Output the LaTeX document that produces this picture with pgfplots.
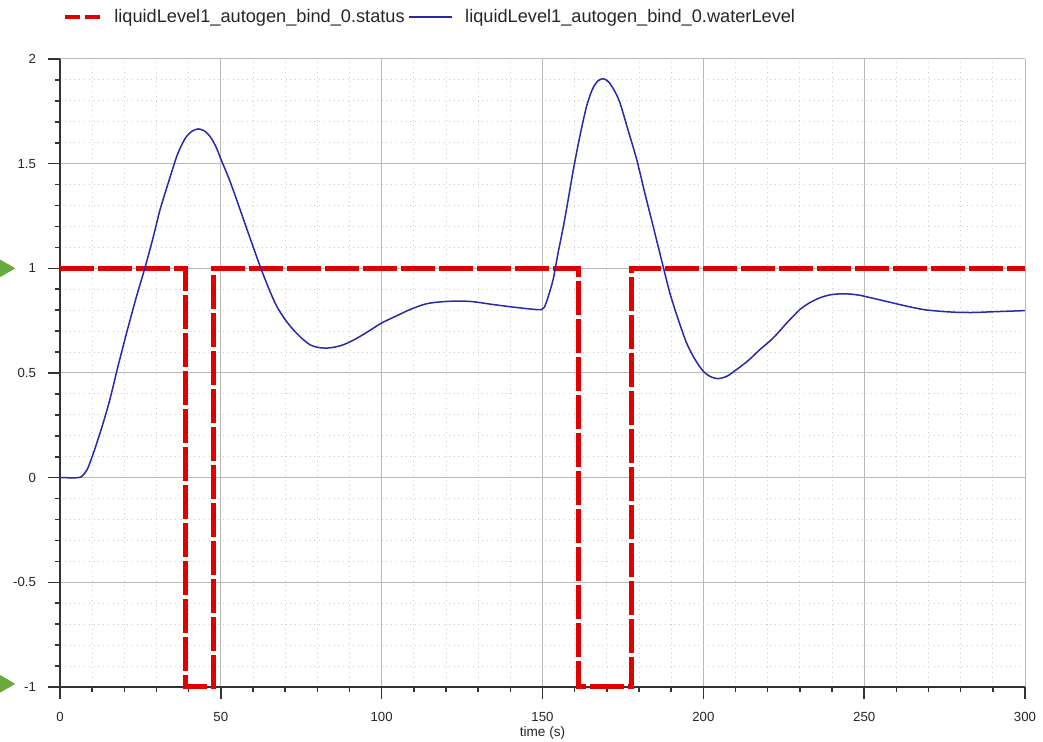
\documentclass[border=0pt]{standalone}
\usepackage{fontspec}
\setmainfont{Liberation Sans}
\usepackage{pgfplots}
\pgfplotsset{compat=1.18}

\definecolor{statred}{RGB}{225,0,0}
\definecolor{lvlblue}{RGB}{40,40,170}
\definecolor{markgreen}{RGB}{106,170,60}

\begin{document}
\begin{tikzpicture}
\begin{axis}[
  scale only axis, width=482.5pt, height=314pt,
  xmin=0, xmax=300, ymin=-1, ymax=2,
  axis lines=left, axis line style={-, draw=black!80, line width=1pt},
  xtick={0,50,100,150,200,250,300}, ytick={-1,-0.5,0,0.5,1,1.5,2},
  minor x tick num=4, minor y tick num=4,
  tick align=outside, major tick length=6pt, minor tick length=2.5pt,
  tick style={draw=black!80, line width=0.8pt},
  grid=both,
  major grid style={gray!55, line width=0.5pt},
  minor grid style={gray!40, dotted, line width=0.5pt},
  ticklabel style={font=\fontsize{6.6}{8}\selectfont, text=black!85},
  /pgf/number format/assume math mode=true,
  yticklabel style={xshift=-2.5pt}, xticklabel style={yshift=-3pt},
  xlabel={time (s)},
  xlabel style={font=\fontsize{6.8}{8}\selectfont, text=black!85, at={(axis description cs:0.5,0)}, anchor=center, yshift=-23pt},
  legend style={draw=none, fill=none, inner sep=0pt, at={(axis description cs:0.003,1.067)}, anchor=west,
    font=\fontsize{9.1}{11}\selectfont, text=black!85},
  legend columns=-1,
  legend cell align=left,
  /tikz/every odd column/.append style={column sep=4pt},
  clip=false,
]
\coordinate (bl) at (rel axis cs:0,0);
\coordinate (tr) at (rel axis cs:1,1);

\addplot[statred, line width=2.5pt, dash pattern=on 17pt off 2pt,
  legend image code/.code={\draw[statred, line width=2pt, dash pattern=on 7.5pt off 2.5pt] (0pt,0pt) -- (17.5pt,0pt);}]
  coordinates {(0,1) (38.9,1) (38.9,-1) (47.7,-1) (47.7,1) (161.1,1) (161.1,-1) (177.7,-1) (177.7,1) (300,1)};
\addlegendentry{liquidLevel1\_autogen\_bind\_0.status}

\addplot[lvlblue, line width=0.75pt, smooth, tension=0.45,
  legend image code/.code={\draw[lvlblue, line width=0.75pt] (0pt,0pt) -- (21.5pt,0pt);}]
  coordinates {(0,0) (5.7,0) (7,0.01) (8.5,0.04) (10.4,0.118) (13,0.24) (15.5,0.373) (18,0.53)
  (20.7,0.691) (23.5,0.85) (26.4,1.002) (29,1.15) (31.1,1.28) (33.7,1.41) (36.3,1.535) (38,1.595)
  (39.4,1.631) (41,1.655) (43,1.666) (44.8,1.657) (46.6,1.631) (48.5,1.58) (50.3,1.511) (52.5,1.43)
  (54.9,1.328) (58.5,1.17) (62.2,1.01) (65,0.9) (67.4,0.818) (70,0.755) (72.5,0.707) (75,0.668)
  (77.7,0.635) (80.3,0.622) (82.9,0.619) (85.5,0.624) (88.1,0.635) (90.7,0.653) (93.3,0.675)
  (96.5,0.705) (100,0.739) (104.5,0.772) (108.8,0.803) (114,0.831) (120.2,0.842) (127.4,0.842)
  (134.7,0.827) (143,0.811) (149.7,0.803) (151,0.83) (151.8,0.866) (153.3,0.946) (154.8,1.07)
  (156.5,1.201) (158,1.33) (159.6,1.472) (161.6,1.63) (163.7,1.774) (165.5,1.855) (167.2,1.895)
  (168.9,1.906) (170.6,1.89) (172.3,1.85) (174.1,1.79) (176.6,1.66) (179.3,1.519) (181.8,1.36)
  (184.4,1.201) (187,1.04) (189.6,0.882) (192.2,0.755) (194.8,0.643) (197.4,0.565) (200,0.508)
  (202.3,0.482) (204.6,0.473) (207.4,0.485) (210.3,0.516) (214,0.56) (217.6,0.612) (221.7,0.667)
  (226,0.74) (230,0.803) (233,0.835) (236.2,0.859) (239.3,0.873) (242.5,0.878) (245.6,0.877)
  (248.7,0.871) (253,0.856) (258,0.838) (263,0.82) (268.4,0.803) (273.5,0.795) (278.7,0.79)
  (284,0.789) (289.1,0.792) (294.5,0.795) (300,0.798)};
\addlegendentry{liquidLevel1\_autogen\_bind\_0.waterLevel}

% green markers at the left edge
\addplot[markgreen, only marks, mark=triangle*, mark size=4.9pt,
  mark options={rotate=-90, fill=markgreen, draw=markgreen}, forget plot]
  coordinates {(-17.2,1) (-17.2,-0.985)};
\end{axis}
\pgfresetboundingbox
\path ([shift={(-30pt,-27.5pt)}]bl) rectangle ([shift={(9pt,29.5pt)}]tr);
\end{tikzpicture}
\end{document}
